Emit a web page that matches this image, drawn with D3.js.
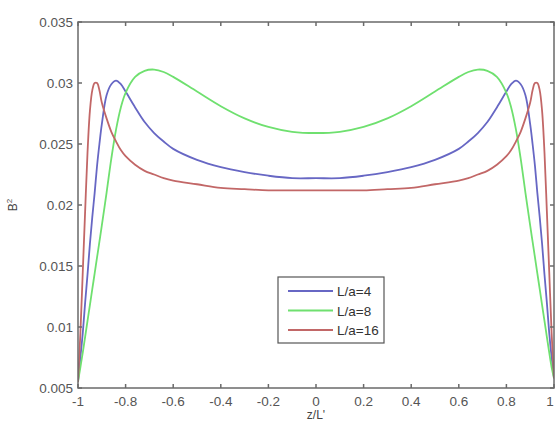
<!DOCTYPE html>
<html><head><meta charset="utf-8">
<script src="https://cdn.jsdelivr.net/npm/d3@7"></script>
<style>body{margin:0;background:#fff}svg{display:block}text{font-family:"Liberation Sans",Arial,sans-serif}</style>
</head><body>
<script>
const zValues = [-1,-0.99,-0.98,-0.97,-0.96,-0.95,-0.94,-0.93,-0.92,-0.91,-0.9,-0.88,-0.86,-0.84,-0.82,-0.8,-0.76,-0.72,-0.68,-0.64,-0.6,-0.5,-0.4,-0.3,-0.2,-0.1,0,
  0.1,0.2,0.3,0.4,0.5,0.6,0.64,0.68,0.72,0.76,0.8,0.82,0.84,0.86,0.88,0.9,0.91,0.92,0.93,0.94,0.95,0.96,0.97,0.98,0.99,1];
const seriesNames = ["L/a=4","L/a=8","L/a=16"];
const la4 = [0.0055,0.0075,0.0095,0.012,0.0143,0.0168,0.019,0.021,0.0232,0.025,0.0266,0.0290,0.0299,0.0302,0.0299,0.0293,0.0280,0.0268,0.0259,0.0252,0.0246,0.0237,0.0231,0.0227,0.0224,0.0222,0.0222,
  0.0222,0.0224,0.0227,0.0231,0.0237,0.0246,0.0252,0.0259,0.0268,0.0280,0.0293,0.0299,0.0302,0.0299,0.0290,0.0266,0.025,0.0232,0.021,0.019,0.0168,0.0143,0.012,0.0095,0.0075,0.0058];
const la8 = [0.0055,0.0067,0.0079,0.0092,0.0105,0.0118,0.0131,0.0144,0.0157,0.0170,0.0183,0.0210,0.0238,0.0262,0.0280,0.0292,0.0305,0.0310,0.0311,0.0309,0.0305,0.0293,0.0281,0.0271,0.0264,0.0260,0.0259,
  0.0260,0.0264,0.0271,0.0281,0.0293,0.0305,0.0309,0.0311,0.0310,0.0305,0.0292,0.0280,0.0262,0.0238,0.0210,0.0183,0.0170,0.0157,0.0144,0.0131,0.0118,0.0105,0.0092,0.0079,0.0067,0.0058];
const la16 = [0.0055,0.0095,0.0145,0.0195,0.0243,0.0277,0.0294,0.0300,0.0300,0.0294,0.0284,0.0271,0.0260,0.0252,0.0245,0.0240,0.0233,0.0228,0.0225,0.0222,0.0220,0.0217,0.0214,0.0213,0.0212,0.0212,0.0212,
  0.0212,0.0212,0.0213,0.0214,0.0217,0.0220,0.0222,0.0225,0.0228,0.0233,0.0240,0.0245,0.0252,0.0260,0.0271,0.0284,0.0294,0.0300,0.0300,0.0294,0.0277,0.0243,0.0195,0.0145,0.0095,0.0058];
const xTicks = [-1,-0.8,-0.6,-0.4,-0.2,0,0.2,0.4,0.6,0.8,1];
const yTicks = [0.005,0.01,0.015,0.02,0.025,0.03,0.035];
const colors = ["#6767c4","#6fe06f","#c26767"];

const W=556,H=423, L=78, R=554, T=22, B=388;
const svg=d3.select("body").append("svg").attr("width",W).attr("height",H);
const x=d3.scaleLinear().domain([-1,1]).range([L,R]);
const y=d3.scaleLinear().domain([0.005,0.035]).range([B,T]);
const axCol="#6a6a6a", txtCol="#555";

// curves
const data=[la4,la8,la16];
const line=d3.line().x((d,i)=>x(zValues[i])).y(d=>y(d)).curve(d3.curveCatmullRom.alpha(0.5));
svg.append("defs").append("clipPath").attr("id","c").append("rect").attr("x",L).attr("y",T).attr("width",R-L).attr("height",B-T);
const g=svg.append("g").attr("clip-path","url(#c)");
data.forEach((s,k)=>g.append("path").datum(s).attr("d",line).attr("fill","none").attr("stroke",colors[k]).attr("stroke-width",1.8));

// axes (box with inward ticks)
const ax=svg.append("g").attr("stroke",axCol).attr("stroke-width",1.5).attr("fill","none");
ax.append("rect").attr("x",L).attr("y",T).attr("width",R-L).attr("height",B-T);
const tl=4;
xTicks.forEach(t=>{ax.append("line").attr("x1",x(t)).attr("x2",x(t)).attr("y1",B).attr("y2",B-tl);
  ax.append("line").attr("x1",x(t)).attr("x2",x(t)).attr("y1",T).attr("y2",T+tl);});
yTicks.forEach(t=>{ax.append("line").attr("x1",L).attr("x2",L+tl).attr("y1",y(t)).attr("y2",y(t));
  ax.append("line").attr("x1",R).attr("x2",R-tl).attr("y1",y(t)).attr("y2",y(t));});

const fmt=v=>String(+v.toFixed(3));
svg.append("g").selectAll("text").data(xTicks).join("text").attr("x",d=>Math.min(x(d),W-6)).attr("y",406)
  .attr("text-anchor","middle").attr("font-size",13.5).attr("fill",txtCol).text(d=>fmt(d));
svg.append("g").selectAll("text").data(yTicks).join("text").attr("x",73).attr("y",d=>y(d)+5)
  .attr("text-anchor","end").attr("font-size",13.5).attr("fill",txtCol).text(d=>fmt(d));
svg.append("text").attr("x",316).attr("y",419).attr("text-anchor","middle").attr("font-size",12).attr("fill","#444").text("z/L'");
const yl=svg.append("text").attr("transform","translate(17,205) rotate(-90)").attr("text-anchor","middle").attr("font-size",12).attr("fill","#444");
yl.append("tspan").text("B");
yl.append("tspan").attr("dy",-5).attr("font-size",8).text("2");

// legend
const lg=svg.append("g");
lg.append("rect").attr("x",278).attr("y",277).attr("width",106).attr("height",66).attr("fill","#fff").attr("stroke","#555").attr("stroke-width",1.2);
seriesNames.forEach((n,i)=>{const yy=291+i*19.5;
  lg.append("line").attr("x1",288).attr("x2",333).attr("y1",yy).attr("y2",yy).attr("stroke",colors[i]).attr("stroke-width",1.8);
  lg.append("text").attr("x",337).attr("y",yy+5).attr("font-size",13.5).attr("fill","#333").text(n);});
</script>
</body></html>
